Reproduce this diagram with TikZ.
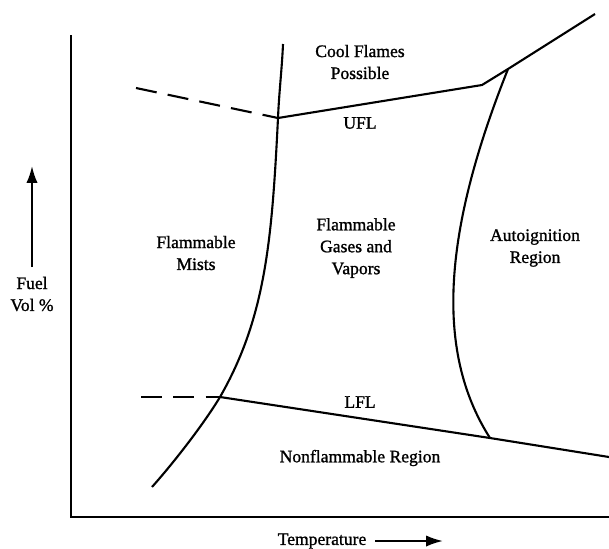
\documentclass[tikz,border=0pt]{standalone}
\usepackage{fontspec}
\setmainfont{Liberation Serif}
\newfontfamily\diagfont{Liberation Serif}[FakeBold=1.2]
\usetikzlibrary{arrows.meta}
\tikzset{boundary/.style = {line width=1.5pt, line join=round}}
\tikzset{extrap/.style = {line width=1.5pt, dash pattern=on 15pt off 8pt}}
\tikzset{axisarrow/.style = {line width=1.5pt, -{Latex[length=12pt,width=8pt]}}}
\tikzset{region/.style = {align=center, font=\diagfont\fontsize{12.5}{15.6}\selectfont}}

\begin{document}
\begin{tikzpicture}[x=0.025cm, y=-0.025cm]
      \useasboundingbox (0,0) rectangle (609,548);
      % axes
      \coordinate (origin) at (71,517);
      \coordinate (ytop) at (71,35);
      \coordinate (xend) at (609,517);
      \draw [line width=1.6pt] (ytop) -- (origin) -- (xend);
      % limit points
      \coordinate (ufl) at (278,118);
      \coordinate (lfl) at (220,397);
      \coordinate (kink) at (482,85);
      \coordinate (autotop) at (508,69);
      \coordinate (autobot) at (490,438);
      \coordinate (uflend) at (595,14);
      \coordinate (lflend) at (609,457);
      \coordinate (ufldash) at (136,88);
      \coordinate (lfldash) at (141,397);
      \coordinate (mistbot) at (152,487);
      \coordinate (misttop) at (283,44);
      % mist boundary
      \draw [boundary] (mistbot) .. controls (176,460) and (205,422) .. (lfl)
        .. controls (266,317) and (272,238) .. (ufl)
        .. controls (279,93) and (282,68) .. (misttop);
      % autoignition boundary
      \draw [boundary] (autotop) .. controls (445,227) and (433,349) .. (autobot);
      % flammability limits
      \draw [boundary] (ufl) -- (kink) -- (autotop) -- (uflend);
      \draw [boundary] (lfl) -- (autobot) -- (lflend);
      \draw [extrap] (ufldash) -- (ufl);
      \draw [extrap] (lfldash) -- (lfl);
      % labels
      \node [region] (cool) at (360,62) {Cool Flames\\Possible};
      \node [region] (ufllabel) at (360,123) {UFL};
      \node [region] (lfllabel) at (360,402) {LFL};
      \node [region] (mists) at (196,253) {Flammable\\Mists};
      \node [region] (gases) at (356,248) {Flammable\\Gases and\\Vapors};
      \node [region] (auto) at (535,248) {Autoignition\\Region};
      \node [region] (nonflam) at (360,458) {Nonflammable Region};
      % axis labels
      \node [region] (fuel) at (32,294) {Fuel\\Vol \%};
      \coordinate (ybot) at (32,267);
      \coordinate (yhead) at (32,166);
      \draw [axisarrow] (ybot) -- (yhead);
      \node [region] (temp) at (322,541) {Temperature};
      \coordinate (tend) at (443,541);
      \draw [axisarrow] ([xshift=3pt]temp.east) -- (tend);
    \end{tikzpicture}
\end{document}
